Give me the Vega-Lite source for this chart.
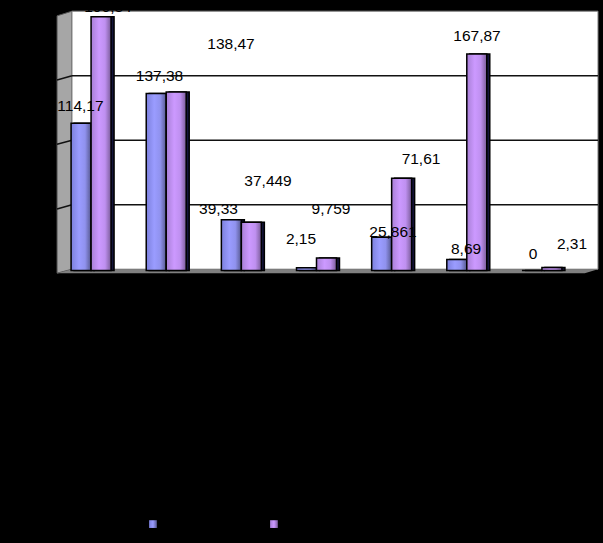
{
 "$schema":"https://vega.github.io/schema/vega-lite/v6.json",
 "width":526,"height":260,
 "autosize":{"type":"none"},
 "padding":{"left":53.5,"top":10.6,"right":23.5,"bottom":272.4},
 "background":"#000000",
 "view":{"stroke":null},
 "datasets":{
  "bars":[
   {"cat":"1","series":"a","value":114.17,"label":"114,17","labelU":0.359,"labelV":127.5},
   {"cat":"1","series":"b","value":196.84,"label":"196,84","labelU":0.725,"labelV":204.2},
   {"cat":"2","series":"a","value":137.38,"label":"137,38","labelU":1.411,"labelV":150.6},
   {"cat":"2","series":"b","value":138.47,"label":"138,47","labelU":2.362,"labelV":175.6},
   {"cat":"3","series":"a","value":39.33,"label":"39,33","labelU":2.196,"labelV":47.6},
   {"cat":"3","series":"b","value":37.449,"label":"37,449","labelU":2.855,"labelV":69.4},
   {"cat":"4","series":"a","value":2.15,"label":"2,15","labelU":3.294,"labelV":24.4},
   {"cat":"4","series":"b","value":9.759,"label":"9,759","labelU":3.693,"labelV":47.6},
   {"cat":"5","series":"a","value":25.861,"label":"25,861","labelU":4.518,"labelV":29.8},
   {"cat":"5","series":"b","value":71.61,"label":"71,61","labelU":4.891,"labelV":86.4},
   {"cat":"6","series":"a","value":8.69,"label":"8,69","labelU":5.49,"labelV":16.6},
   {"cat":"6","series":"b","value":167.87,"label":"167,87","labelU":5.636,"labelV":181.6},
   {"cat":"7","series":"a","value":0,"label":"0","labelU":6.381,"labelV":12.6},
   {"cat":"7","series":"b","value":2.31,"label":"2,31","labelU":6.9,"labelV":20.6}
  ],
  "leftWall":[{"u":0.047,"top":197.5,"bottom":-2},{"u":0.246,"top":201.1,"bottom":1.1}],
  "floor":[{"u":0.047,"top":-2,"bottom":-2},{"u":0.246,"top":1.1,"bottom":-2},{"u":7.07,"top":1.1,"bottom":-2},{"u":7.246,"top":1.1,"bottom":1.1}],
  "backWall":[{"u":0.246,"u2":7.246,"v":1.1,"v2":201.1}],
  "grid":[{"u":0.246,"u2":7.246,"v":51.1},{"u":0.246,"u2":7.246,"v":101.1},{"u":0.246,"u2":7.246,"v":151.1}],
  "sideTicks":[{"u":0.047,"u2":0.246,"v":147.8,"v2":151.1},{"u":0.047,"u2":0.246,"v":98,"v2":101.1},{"u":0.047,"u2":0.246,"v":47.7,"v2":51.1}],
  "legend":[{"u":1.324,"v":-196.5,"series":"a"},{"u":2.934,"v":-196.5,"series":"b"}]
 },
 "resolve":{"scale":{"x":"independent"}},
 "layer":[
  {"data":{"name":"leftWall"},"mark":{"type":"area","color":"#a6a6a6","stroke":"#555555","strokeWidth":1},
   "encoding":{"x":{"field":"u","type":"quantitative","scale":{"domain":[0,7]},"axis":null},
    "y":{"field":"top","type":"quantitative","scale":{"domain":[0,201.55],"nice":false,"zero":false},"axis":null,"stack":null},
    "y2":{"field":"bottom"}}},
  {"data":{"name":"backWall"},"mark":{"type":"rect","color":"#ffffff","stroke":"#808080","strokeWidth":1},
   "encoding":{"x":{"field":"u","type":"quantitative","scale":{"domain":[0,7]},"axis":null},"x2":{"field":"u2"},
    "y":{"field":"v","type":"quantitative","axis":null},"y2":{"field":"v2"}}},
  {"data":{"name":"floor"},"mark":{"type":"area","color":"#808080"},
   "encoding":{"x":{"field":"u","type":"quantitative","scale":{"domain":[0,7]},"axis":null},
    "y":{"field":"top","type":"quantitative","axis":null,"stack":null},"y2":{"field":"bottom"}}},
  {"data":{"name":"grid"},"mark":{"type":"rule","color":"#111111","strokeWidth":1.5},
   "encoding":{"x":{"field":"u","type":"quantitative","scale":{"domain":[0,7]},"axis":null},"x2":{"field":"u2"},
    "y":{"field":"v","type":"quantitative","axis":null}}},
  {"data":{"name":"sideTicks"},"mark":{"type":"rule","color":"#111111","strokeWidth":1.5},
   "encoding":{"x":{"field":"u","type":"quantitative","scale":{"domain":[0,7]},"axis":null},"x2":{"field":"u2"},
    "y":{"field":"v","type":"quantitative","axis":null},"y2":{"field":"v2"}}},
  {"data":{"name":"bars"},"mark":{"type":"bar","color":"#14143c","stroke":"#000000","strokeWidth":1.5},
   "encoding":{"x":{"field":"cat","type":"nominal","scale":{"range":[3,529],"paddingInner":0.468,"paddingOuter":0.234},"axis":null},
    "xOffset":{"field":"series","type":"nominal","scale":{"domain":["a","b"],"paddingInner":0,"paddingOuter":0}},
    "y":{"field":"value","type":"quantitative","axis":null}}},
  {"data":{"name":"bars"},"transform":[{"filter":"datum.series==='a'"}],
   "mark":{"type":"bar","stroke":"#000000","strokeWidth":1.5,
    "color":{"gradient":"linear","x1":0,"x2":1,"y1":0,"y2":0,"stops":[{"offset":0,"color":"#7c80dd"},{"offset":0.4,"color":"#9a9cff"},{"offset":0.7,"color":"#9092ee"},{"offset":1,"color":"#56588f"}]}},
   "encoding":{"x":{"field":"cat","type":"nominal","scale":{"paddingInner":0.468,"paddingOuter":0.234},"axis":null},
    "xOffset":{"field":"series","type":"nominal","scale":{"domain":["a","b"],"paddingInner":0,"paddingOuter":0}},
    "y":{"field":"value","type":"quantitative","axis":null}}},
  {"data":{"name":"bars"},"transform":[{"filter":"datum.series==='b'"}],
   "mark":{"type":"bar","stroke":"#000000","strokeWidth":1.5,
    "color":{"gradient":"linear","x1":0,"x2":1,"y1":0,"y2":0,"stops":[{"offset":0,"color":"#a87fd6"},{"offset":0.4,"color":"#cc99ff"},{"offset":0.7,"color":"#bf90f0"},{"offset":1,"color":"#7a5c99"}]}},
   "encoding":{"x":{"field":"cat","type":"nominal","scale":{"paddingInner":0.468,"paddingOuter":0.234},"axis":null},
    "xOffset":{"field":"series","type":"nominal","scale":{"domain":["a","b"],"paddingInner":0,"paddingOuter":0}},
    "y":{"field":"value","type":"quantitative","axis":null}}},
  {"data":{"name":"bars"},"mark":{"type":"text","font":"Liberation Sans","fontSize":15.5,"color":"#000000","align":"center","baseline":"middle"},
   "encoding":{"x":{"field":"labelU","type":"quantitative","scale":{"domain":[0,7]},"axis":null},
    "y":{"field":"labelV","type":"quantitative","axis":null},
    "text":{"field":"label","type":"nominal"}}},
  {"data":{"name":"legend"},"transform":[{"filter":"datum.series==='a'"}],
   "mark":{"type":"square","size":60,"opacity":1,
    "color":{"gradient":"linear","x1":0,"x2":1,"y1":0,"y2":0,"stops":[{"offset":0,"color":"#7c80dd"},{"offset":0.5,"color":"#9a9cff"},{"offset":1,"color":"#56588f"}]}},
   "encoding":{"x":{"field":"u","type":"quantitative","scale":{"domain":[0,7]},"axis":null},"y":{"field":"v","type":"quantitative","axis":null}}},
  {"data":{"name":"legend"},"transform":[{"filter":"datum.series==='b'"}],
   "mark":{"type":"square","size":60,"opacity":1,
    "color":{"gradient":"linear","x1":0,"x2":1,"y1":0,"y2":0,"stops":[{"offset":0,"color":"#a87fd6"},{"offset":0.5,"color":"#cc99ff"},{"offset":1,"color":"#7a5c99"}]}},
   "encoding":{"x":{"field":"u","type":"quantitative","scale":{"domain":[0,7]},"axis":null},"y":{"field":"v","type":"quantitative","axis":null}}}
 ]
}
